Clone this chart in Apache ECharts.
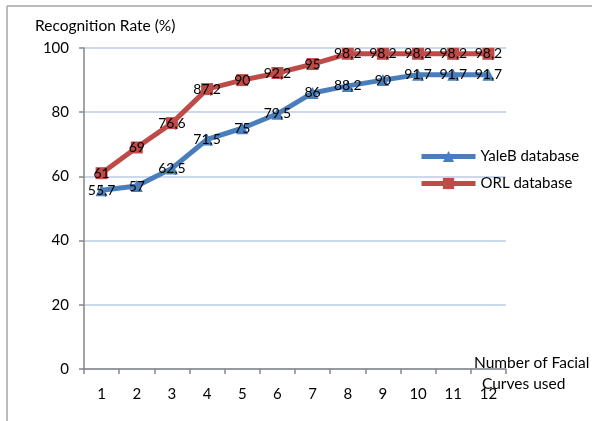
<!DOCTYPE html>
<html><head><meta charset="utf-8">
<script src="https://cdn.jsdelivr.net/npm/echarts@6/dist/echarts.min.js"></script>
<style>html,body{margin:0;padding:0;background:#fff}#c{width:592px;height:421px}</style>
</head><body><div id="c"></div>
<script>
const categories = ['1','2','3','4','5','6','7','8','9','10','11','12'];
const yaleB = [55.7, 57, 62.5, 71.5, 75, 79.5, 86, 88.2, 90, 91.7, 91.7, 91.7];
const orl = [61, 69, 76.6, 87.2, 90, 92.2, 95, 98.2, 98.2, 98.2, 98.2, 98.2];
const seriesNames = ['YaleB database', 'ORL database'];
const yTitle = 'Recognition Rate (%)';
const xTitle1 = 'Number of Facial';
const xTitle2 = 'Curves used';

const FONT = 'Lato, "Open Sans", sans-serif';
const chart = echarts.init(document.getElementById('c'), null, {renderer:'canvas'});
const fmt = p => String(p.value).replace('.', ',');
chart.setOption({
  animation: false,
  textStyle: {fontFamily: FONT},
  grid: {left: 84, right: 86, top: 48, bottom: 52},
  legend: {
    orient: 'vertical', left: 414, top: 144, itemWidth: 54, itemHeight: 14, itemGap: 12,
    lineStyle: {width: 5},
    textStyle: {fontSize: 15, color: '#000', fontFamily: FONT}, data: seriesNames
  },
  xAxis: {
    type: 'category', data: categories, boundaryGap: true,
    axisLine: {lineStyle: {color: '#868686', width: 1.5}},
    axisTick: {show: true, interval: 0, length: 5, lineStyle: {color: '#868686', width: 1.5}},
    axisLabel: {fontSize: 15, color: '#000', margin: 18, fontFamily: FONT, interval: 0},
    splitLine: {show: false}
  },
  yAxis: {
    type: 'value', min: 0, max: 100, interval: 20,
    axisLine: {show: true, lineStyle: {color: '#868686', width: 1.5}},
    axisTick: {show: true, length: 5, lineStyle: {color: '#868686', width: 1.5}},
    axisLabel: {fontSize: 15, color: '#000', margin: 15, fontFamily: FONT},
    splitLine: {lineStyle: {color: '#b9cde5', width: 1.5}}
  },
  graphic: [
    {type: 'line', shape: {x1: 7, y1: 6, x2: 592, y2: 6}, style: {stroke: '#a6a6a6', lineWidth: 1.5}},
    {type: 'line', shape: {x1: 7, y1: 6, x2: 7, y2: 421}, style: {stroke: '#a6a6a6', lineWidth: 1.5}},
    {type: 'text', left: 35, top: 18, style: {text: yTitle, fontSize: 15.5, fill: '#000', fontFamily: FONT}},
    {type: 'text', left: 474, top: 355, style: {text: xTitle1, fontSize: 15.5, fill: '#000', fontFamily: FONT}},
    {type: 'text', left: 482, top: 376, style: {text: xTitle2, fontSize: 15.5, fill: '#000', fontFamily: FONT}}
  ],
  series: [
    {name: seriesNames[0], type: 'line', data: yaleB, symbol: 'triangle', symbolSize: 12,
     lineStyle: {color: '#4a7ebb', width: 5}, itemStyle: {color: '#4a7ebb'},
     label: {show: true, position: 'inside', color: '#000', fontSize: 14, formatter: fmt, fontFamily: FONT}},
    {name: seriesNames[1], type: 'line', data: orl, symbol: 'rect', symbolSize: 12,
     lineStyle: {color: '#be4b48', width: 5}, itemStyle: {color: '#be4b48'},
     label: {show: true, position: 'inside', color: '#000', fontSize: 14, formatter: fmt, fontFamily: FONT}}
  ]
});
</script></body></html>
